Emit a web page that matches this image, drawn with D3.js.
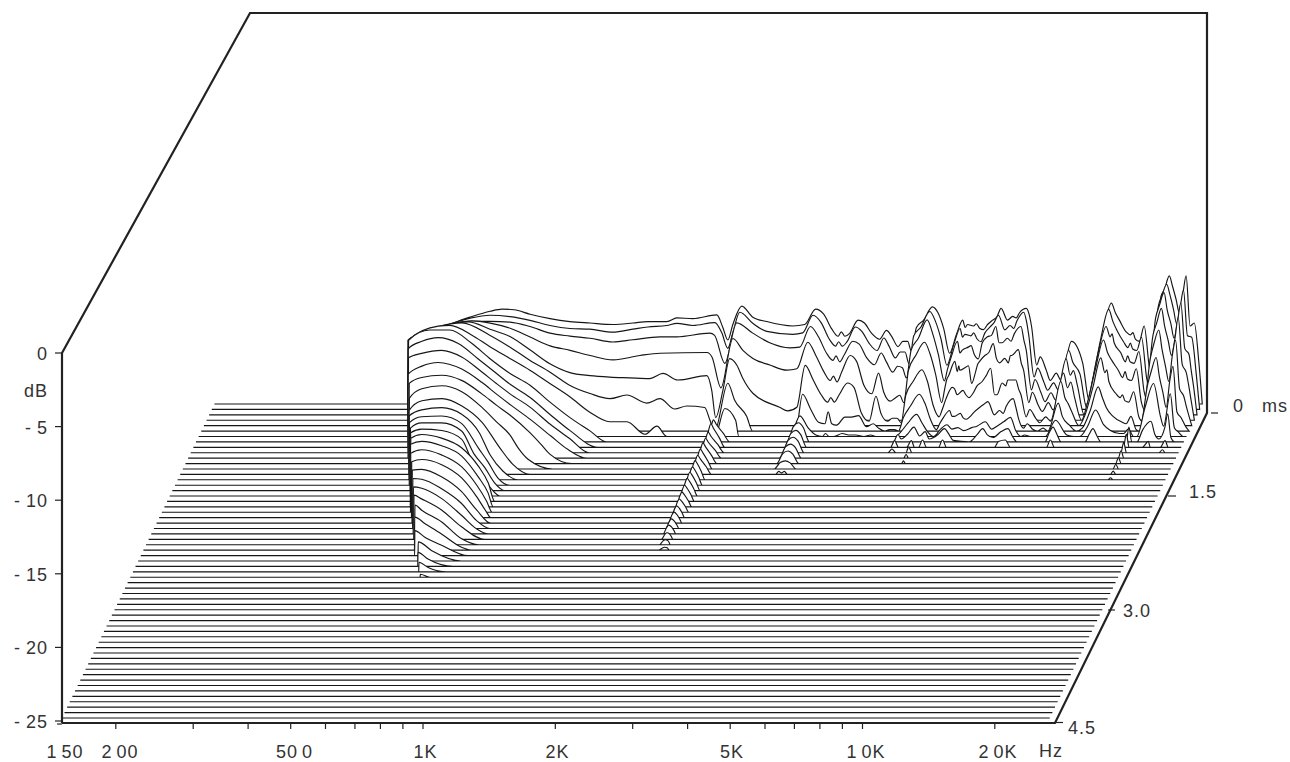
<!DOCTYPE html>
<html><head><meta charset="utf-8">
<style>html,body{margin:0;padding:0;background:#fff}svg{display:block}text{font-family:"Liberation Sans",Arial,sans-serif;fill:#333}</style>
<script src="https://cdn.jsdelivr.net/npm/d3@7"></script></head><body><svg id="c" width="1290" height="762"></svg>
<script>
// Frequency axis ticks
const freqTicks=[200,300,400,500,600,700,800,900,1000,2000,3000,4000,5000,6000,7000,8000,9000,10000,20000];
const freqLabels=[[150,"1 50"],[200,"2 00"],[500,"50 0"],[1000,"1K"],[2000,"2K"],[5000,"5K"],[10000,"1 0K"],[20000,"2 0K"]];
const dbTicks=[0,-5,-10,-15,-20,-25];
const timeTicks=[0,1.5,3,4.5];
const timeLabels=["0   ms","1.5","3.0","4.5"];
const sliceCount=59;
const binLo=-90.5, binHi=156.75;

// Slice data: [log-frequency bin, level in dB above the -25 dB floor]
const low0=[[-42,4.35],[-36.5,4.96],[-31.5,5.43],[-26.5,5.9],[-21.5,6.3],[-18.5,6.45],[-15.5,6.4],[-11.5,6.1],[-6.5,5.8],[-1.5,5.6],[3.5,5.5],[9.25,5.4],[14.25,5.5],[18,5.6],[22.75,5.6],[25.25,5.85],[29.25,5.8],[35.25,6.05],[36.75,5.2],[38,4.35],[39.25,5.4],[41.5,6.65],[44.25,5.9],[47.75,5.6],[54.25,5.3],[57.25,5.4]];
const low1=[[-41.3,4.7],[-35.85,5.3],[-30.85,5.8],[-25.85,6.2],[-20.85,6.4],[-15.85,6.3],[-10.85,6.05],[-5.85,5.7],[-.85,5.5],[4.15,5.45],[9.9,5.25],[14.9,5.45],[18.65,5.6],[23.4,5.7],[25.9,5.85],[29.9,5.7],[35.4,5.9],[37.15,5.2],[38.65,4.15],[39.9,5.2],[41.65,6.6],[44.9,5.85],[48.4,5.3],[54.9,5.1],[57.4,5.2]];
const low2=[[-40.6,5.1],[-35.2,5.7],[-30.2,6.15],[-25.2,6.35],[-20.2,6.35],[-15.2,6.3],[-10.2,6],[-5.2,5.55],[-.2,5.35],[4.8,5.2],[10.55,4.95],[15.55,5.1],[22.3,5.3],[26.55,5.3],[34.8,5.55],[36,5.4],[38.55,3.5],[41.55,6.25],[45.55,5.55],[49.8,4.9],[54.8,4.55],[57.3,4.6]];
const low3=[[-39.8,5.45],[-32.4,6.25],[-24.1,6.75],[-19.5,6.6],[-14.5,6.25],[-9.5,5.65],[-4.5,5.05],[.5,4.75],[5.5,4.4],[11.25,4.1],[18,4.4],[23,4.55],[34.75,4.6],[36,4.3],[38.25,2.2],[41.25,5.55],[43.75,4.75],[46.25,4.2],[50.5,3.75],[54.75,3.4],[57.25,3.5]];
const low4=[[-39.3,5.8],[-31.8,6.65],[-24.3,7.05],[-18.9,6.55],[-13.9,6.05],[-8.9,5.15],[-3.9,4.2],[1.1,3.6],[6.1,3.4],[11.1,3.3],[16,3.25],[21.1,3.2],[24.4,3.55],[28.1,3.1],[35.4,3.4],[36.6,2.4],[37.6,.55],[39.4,2.4],[41.1,4.55],[42.9,4.1],[44.4,3.2],[46.9,2.2],[53.6,1.25],[55.6,1],[57.9,1.25]];
const low5=[[-38.6,6.2],[-31.1,7.1],[-25.3,7.35],[-18.2,6.5],[-13.2,5.7],[-8.2,4.8],[-3.2,4],[1.8,3.1],[6.8,2.55],[11.8,2.2],[16,2.45],[21,1.9],[24.3,2.2],[28,1.5],[31,1.7],[35.5,1.6],[36.8,.75],[38,0],[41.3,3.25],[43,2.1],[46,1],[47.5,0],[58.3,0]];
const low6=[[-38,6.55],[-30.5,7.5],[-27.6,7.55],[-22.2,6.9],[-17.6,6.1],[-12.6,5.3],[-7.6,4.5],[-2.6,3.6],[2.4,2.7],[7.4,1.65],[12.4,1],[16.7,1],[21.2,.15],[24.2,.7],[26.7,0],[38.7,0],[41.2,1.9],[43.9,1.1],[44.7,0],[57.5,0]];
const low7=[[-37.3,6.9],[-32,7.6],[-27,7.6],[-21.5,6.7],[-16.9,5.65],[-11.9,4.65],[-6.9,3.85],[-1.9,2.7],[3.1,1.65],[8.1,.75],[12.3,0]];
const low8=[[-36.7,6.7],[-33.3,7.2],[-29.2,7.45],[-24.2,7.05],[-19.2,6],[-15,5.1],[-11.3,4.3],[-6.3,3.4],[-1.3,2.25],[3.7,1.15],[10.7,0]];
const low9=[[-36,6.45],[-32.7,6.75],[-27.7,6.95],[-22.7,6.5],[-17.7,5.5],[-14,4.7],[-10.6,4],[-5.6,3.1],[-.6,1.95],[4.4,.95],[9.15,0]];
const low10=[[-35.4,5.7],[-32,6.25],[-27.9,6.5],[-22,6.05],[-17,5.15],[-13.3,4.35],[-9.7,3.6],[-4.7,2.6],[.3,1.5],[4.5,.6],[9.3,0]];
const low11=[[-34.5,5.45],[-31.4,5.85],[-26.4,6],[-21.4,5.65],[-16.4,4.75],[-12.6,3.95],[-9.3,3.3],[-4.3,2.1],[-1.5,1.3],[.7,.64],[6.2,0]];
const low12=[[-33.8,4.8],[-30.7,5.45],[-25.7,5.65],[-20.7,5.25],[-15.7,4.2],[-12,3.2],[-8.6,2.3],[-6.5,1.4],[-4.1,.66],[2.1,0]];
const low13=[[-33.2,4.35],[-30,5],[-25,5.15],[-20,4.65],[-15,3.55],[-10.5,1.8],[-7.25,.68],[-3,0]];
const low14=[[-32.5,4.35],[-29.4,4.75],[-24.4,4.9],[-19.4,4.45],[-15,3.2],[-12.3,1.7],[-9.1,.6],[-5.3,0]];
const low15=[[-31.8,4.25],[-28.8,4.65],[-23.8,4.7],[-18.8,4.2],[-14.5,2.5],[-12.2,1.6],[-9.7,.5],[-6.7,0]];
const low16=[[-30.9,4.25],[-28.1,4.6],[-23.1,4.6],[-18.1,4.05],[-15,2.5],[-12.25,1.55],[-9.75,.5],[-7.3,0]];
const low17=[[-30.2,4.3],[-27.4,4.55],[-22.4,4.45],[-17.4,3.85],[-15,2.5],[-12.6,1.5],[-10.2,.55],[-7.85,0]];
const low18=[[-29.5,4.3],[-26.8,4.55],[-21.8,4.3],[-16.8,3.65],[-12.6,2.4],[-10.1,1.25],[-8.5,0]];
const low19=[[-28.9,4.25],[-26.1,4.45],[-21.1,4.15],[-16.1,3.45],[-12,2.05],[-9.5,.95],[-8.2,0]];
const low20=[[-28.2,4],[-25.5,4.25],[-20.5,3.9],[-15.5,3.1],[-11.7,1.85],[-9.2,.75],[-7.8,0]];
const low21=[[-27.3,3.8],[-24.8,3.95],[-19.8,3.6],[-14.8,2.7],[-11.1,1.45],[-8.6,.4],[-7.5,0]];
const low22=[[-26.5,3.6],[-24.2,3.65],[-19.2,3.15],[-14.2,2.15],[-10.4,.9],[-6.85,0]];
const low23=[[-25.7,3.4],[-23.5,3.35],[-18.5,2.7],[-13.5,1.7],[-9.8,.55],[-6.45,0]];
const low24=[[-24.9,3.2],[-22.8,3.1],[-17.8,2.4],[-12.8,1.25],[-9.1,.35],[-6.2,0]];
const low25=[[-24.1,3],[-22.2,2.75],[-17.2,2],[-12.2,.85],[-6.4,0]];
const low26=[[-23.2,2.7],[-21.5,2.35],[-16.5,1.55],[-11.5,.4],[-7.2,0]];
const low27=[[-22.6,2.25],[-20,1.8],[-15.9,1.1],[-10.9,.2],[-8,0]];
const low28=[[-21.9,1.7],[-19.4,1.25],[-15.2,.7],[-8.6,0]];
const low29=[[-20.4,1.3],[-17,.7],[-9.6,0]];
const low30=[[-19.8,.95],[-17.3,.5],[-11,0]];
const low31=[[-18.9,.65],[-16.6,.3],[-12,0]];
const low32=[[-17.9,.2],[-15.5,0]];
const lows=[low0,low1,low2,low3,low4,low5,low6,low7,low8,low9,low10,low11,low12,low13,low14,low15,low16,low17,low18,low19,low20,low21,low22,low23,low24,low25,low26,low27,low28,low29,low30,low31,low32];

// High band, slices 0..6: levels at shared bins
const hfBins=[60,62,64,65.6,66.4,67.3,68.5,70.6,72.2,74,
76,77.7,79,80.6,81.8,83,84,85.2,87,89.2,
90.6,92,93.5,95.2,96.8,98,99.5,101,103,104.3,
106.4,108,109.3,111,112.7,114,115.3,116.2,117.7,118.7,
120.2,121.4,124,126.8,128.5,130,132,134,136,137.7,
140,141,142.2,143.5,144.3,146.4,148.5,150.2,151,152.7,
153.7,154.75,155.9,156.75];
const high0=[6.45,6.1,5.1,4.6,4.9,4.6,4.8,5.7,5.5,4.8,
4.4,5.0,4.6,3.9,4.25,4.25,3.55,5.2,5.7,6.6,
6.2,5.15,3.45,4.7,5.7,5.4,5.3,5.15,5.4,5.7,
6.5,5.7,5.95,6.2,6.5,5.3,2.65,3.2,2.3,1.6,
2.1,1.6,4.25,2.8,.15,2.3,5,6.85,5.7,4.9,
4.4,4.25,5.3,2.5,1.6,7.3,8.7,7.1,6.2,8.7,
5.3,5.5,2.8,0];
const high1=[6.4,5.9,4.8,4.3,4.6,4.3,4.6,5.6,5.3,4.5,
4.0,4.85,4.3,3.5,3.9,3.9,3.1,5.0,5.6,6.65,
6.0,4.8,3.0,4.4,5.5,5.1,5.0,4.8,5.2,5.6,
6.4,5.4,5.7,6.0,6.6,5.0,2.2,2.8,1.9,1.3,
1.8,1.3,4.0,2.4,.1,2,4.8,6.8,5.4,4.6,
4.1,4,4.9,2.1,1.3,7.0,8.5,6.8,5.8,8.1,
5,4.9,2.4,0];
const high2=[6,5.3,4.2,3.7,4.0,3.6,4.1,5,4.8,3.9,
3.4,4.2,3.6,2.9,3.3,3.2,2.5,4.4,5.2,6.45,
5.5,4.1,2.3,3.9,5,4.4,4.6,4.1,4.9,5.3,
6,4.9,5.2,5.5,6,4.4,1.7,2.4,1.5,.9,
1.5,1,3.8,2,0,1.6,4.2,6,4.9,4.2,
3.6,3.5,4.3,1.6,1,6.6,8.3,6.2,5.2,7.6,
4.5,4.1,1.9,0];
const high3=[5.3,4.4,3.3,2.7,3.0,2.6,3.3,4.4,4.0,2.4,
1.8,3.2,1.9,1.3,1.5,1.7,1.2,3.4,4.4,5.3,
4.5,3.1,1.2,3,4,3.4,3.6,2.5,4,4.4,
5.2,3.9,4.2,4.4,4.8,3.4,1.2,1.9,1,.6,
1.2,.7,3.2,1.5,0,1.2,3.5,5.45,4.1,3.4,
2.8,2.7,3.5,1.2,.7,5.8,7.6,5.4,4.4,7,
3.8,3.2,1.4,0];
const high4=[4.1,3.1,2.1,1.6,1.9,1.6,2.1,2.9,2.6,.9,
.3,2,.8,.3,.5,.5,.2,2.1,3,3.8,
3,1.4,.6,1.8,2.6,2.1,2.4,1.9,2.7,3,
3.9,2.1,2.9,3.1,3.1,2.1,.6,1.1,.5,.2,
.6,.3,3,.9,0,.7,2.6,4.6,3,2.2,
1.7,1.6,2.3,.6,.3,4.6,6.5,4,3,5.8,
2.5,2,.8,0];
const high5=[2.5,1.5,.6,.5,1.3,.5,.4,.95,.95,1.05,
.3,.5,.2,0,.1,.1,0,.9,1.7,2.5,
1.9,.8,.1,.9,1.4,1,1.2,.8,1.3,1.6,
2,1.1,1.4,1.7,2.2,.9,.2,.5,.1,0,
.2,0,1.9,.4,0,.2,1.4,3,1.6,1,
.6,.5,1,.1,0,3.2,5,2.6,1.6,4.4,
1.3,.9,.3,0];
const high6=[1.4,.6,.1,0,.2,0,0,.2,.1,.1,
0,.1,0,0,0,0,0,.3,.9,1.5,
.9,.3,0,.5,.8,.5,.6,.4,.6,.7,
1,.5,.7,1,1.3,.4,0,.1,0,0,
0,0,1.1,.1,0,0,.7,1.8,.8,.4,
.2,.2,.5,0,0,2,3.6,1.4,.7,2.9,
.6,.3,0,0];
const highs=[high0,high1,high2,high3,high4,high5,high6];

// Fine notches between the shared bins
const jag0=[[97.4,5.2],[100.2,5.45],[102,5.05],[105.3,5.9],[110.2,5.85],[113.4,6.1],[135,6.2],[138.8,4.7],[139.4,4.85],[147.3,7.8],[149.3,8],[151.9,7.5]];
const jag1=[[97.4,4.9],[100.2,5.2],[102,4.6],[105.3,5.9],[110.2,5.5],[113.4,6],[125,3.2],[135,6],[138.8,4.2],[139.4,4.5],[147.3,7.7],[149.3,7.8],[151.9,7]];
const jag2=[[94.3,3.1],[97.4,4.2],[100.2,4.7],[102,3.8],[105.3,5.4],[107.2,4.9],[110.2,5],[113.4,5.1],[125,2.7],[125.8,3],[135,5.3],[135.5,5.5],[138.8,3.6],[139.4,4],[147.3,7.4],[149.3,7.1],[151.9,6.4],[155.3,3]];
const jag3=[[94.3,2.2],[94.8,2.8],[97.4,3.3],[97.8,3.7],[100.2,3.7],[102,3.3],[102.5,3.8],[105.3,4.6],[107.2,4.2],[110.2,3.9],[110.7,4.4],[113.4,3.9],[125,2.2],[125.8,2.6],[135,4.6],[138.8,2.9],[139.4,3.3],[147.3,6.6],[149.3,6.4],[151.9,5.6],[155.3,2.4]];
const jag4=[[94.3,1.1],[97.4,2.5],[97.8,2.2],[100.2,2.1],[102,2.2],[105.3,3.4],[107.4,2.1],[110.2,2.7],[110.7,3.1],[113.4,2.5],[125,1.9],[125.8,1.5],[135,3.6],[135.5,3.8],[138.8,1.9],[139.4,2.1],[147.3,5.6],[149.3,5.2],[151.9,4.8],[155.3,1.4]];
const jag5=[[94.3,.5],[97.4,1],[100.2,.9],[102,1],[105.3,1.8],[110.2,1.2],[113.4,1.6],[125,1],[135,2.3],[147.3,4.1],[149.3,3.7],[151.9,3.4]];
const jags=[jag0,jag1,jag2,jag3,jag4,jag5];

// Sparse high band for slices 7..11
const sparse7=[[84,0],[85.2,.5],[86,.2],[87.5,.5],[89.2,1],[90.6,.4],[92,.7],[93,.2],[95.2,.5],[96.8,.9],[98,.5],[99,.1],[103,0],[105,.5],[106.4,.9],[107.5,.5],[109,.3],[111,.7],[112.7,.9],[114,.3],[115,0],[122,0],[123,.6],[124,1],[125,.5],[126,0],[132,0],[133,.5],[134,.9],[135,.4],[136,0],[141.6,0],[145,0],[146.4,.8],[148.5,1.4],[149.5,.5],[150.5,.2],[152,1],[152.7,1.9],[153.5,.3],[154.5,0]];
const sparse8=[[84,0],[85,.45],[86,0],[88,0],[89.2,.45],[90,0],[91,0],[92,.5],[93,0],[96,0],[97,.5],[98,0],[110,0],[111,.4],[112.7,.5],[114,0],[123,0],[124,.5],[125,0],[147,0],[148.5,.4],[149,0],[151.5,0],[152.7,.45],[153.5,0]];
const sparse9=[[84,0],[85,.25],[86,0],[88.5,0],[89.2,.4],[90,0],[151.8,0],[152.7,.2],[153.4,0]];
const sparse10=[[88.6,0],[89.2,.25],[89.8,0]];
const sparse11=[[88.7,0],[89.2,.18],[89.7,0]];
const sparses={7:sparse7,8:sparse8,9:sparse9,10:sparse10,11:sparse11};

// Narrow ridges persisting through time: level per slice from the given start slice
const ridgeA_start=7;
const ridgeA_level=[1.5,1.6,1.4,1.35,1.4,1.35,1.3,1.3,1.25,1.25,1.2,1.1,1,.9,.8,.75,.65,.6,.45,.35,.2];
const ridgeA_apex=[39,39,39,39,39,39,39,39,39,39,39,39,39,39,39,39,39,39,39.2,39.4,39.9];
const ridgeA_right=[43.1,42.5,43,43,42.5,42,42.5,41.5,41.5,41.6,41.6,41.5,41.5,41.4,41,41,40.9,40.8,40.7,40.7,41];
const ridgeB_start=7;
const ridgeB_level=[1.3,1.15,1.05,.95,.85,.55,.2];
const ridgeC_start=7;
const ridgeC_level=[1,.9,.7,.5,.4,.32,.22,.14];

const xScale=d3.scaleLog().domain([1000,10000]).range([423,862.5]);
const binHz=b=>1000*Math.pow(10,b/110);
const depthX=d3.scaleLinear().domain([0,sliceCount-1]).range([153,153-2.63*(sliceCount-1)]);
const floorY=d3.scaleLinear().domain([0,sliceCount-1]).range([404,718]);
const yDb=d3.scaleLinear().domain([0,-25]).range([353,721]);
const unit=Math.abs(yDb(-25)-yDb(-24));
const yTime=d3.scaleLinear().domain(timeTicks).range([413,496,610,722.5]);

highs.forEach((h,i)=>{if(h.length!==hfBins.length)throw new Error("high"+i+" len "+h.length+" vs "+hfBins.length)});

function slicePts(k){
  let p=[];
  if(lows[k]){const f=lows[k][0];p.push([f[0]-.06,0]);p=p.concat(lows[k]);}
  if(highs[k]) p=p.concat(hfBins.map((b,i)=>[b,highs[k][i]]));
  if(jags[k]) p=p.concat(jags[k]);
  if(k>=ridgeA_start&&k-ridgeA_start<ridgeA_level.length){
    const i=k-ridgeA_start,a=ridgeA_apex[i],l=ridgeA_level[i],r=ridgeA_right[i];
    p.push([a-1.4,0],[a-.5,l*.75],[a,l],[a+.7,l*.8],[(a+r)/2+.4,l*.4],[r,0]);
  }
  if(k>=ridgeB_start&&k-ridgeB_start<ridgeB_level.length){
    const l=ridgeB_level[k-ridgeB_start];
    if(l<.3)p.push([58.5,0],[59.3,l],[60,l*.5],[60.7,l],[61.5,0]);
    else p.push([57.5,0],[59,l*.8],[60.3,l],[61.5,l*.75],[63,0]);
  }
  if(sparses[k]) p=p.concat(sparses[k]);
  if(k>=ridgeC_start&&k-ridgeC_start<ridgeC_level.length){
    const l=ridgeC_level[k-ridgeC_start];
    p.push([142.3,0],[143,l],[143.7,0]);
  }
  p.push([binLo,0],[binHi,0]);
  p.sort((a,b)=>a[0]-b[0]);
  return p;
}

const svg=d3.select("#c");
const gS=svg.append("g");
const line=d3.line().curve(d3.curveMonotoneX);
for(let k=0;k<sliceCount;k++){
  const fy=floorY(k),dx=depthX(k);
  const pts=slicePts(k).map(([b,v])=>[xScale(binHz(b))+dx,fy-v*unit]);
  gS.append("path").attr("d",line(pts)+"Z").attr("fill","#fff").attr("stroke","#161616").attr("stroke-width",1.15);
}

// Frame
svg.append("path").attr("fill","none").attr("stroke","#222").attr("stroke-width",2.2).attr("stroke-linejoin","miter")
  .attr("d",d3.line()([[62,723],[62,yDb(0)],[250,13],[1207,13],[1207,yTime(0)],[1055,723],[62,723]]));
const tk=svg.append("g").attr("stroke","#222").attr("stroke-width",1.2);
dbTicks.forEach(d=>tk.append("line").attr("x1",55).attr("x2",62).attr("y1",yDb(d)).attr("y2",yDb(d)));
tk.append("line").attr("x1",57).attr("x2",62).attr("y1",724).attr("y2",724);
freqTicks.forEach(f=>tk.append("line").attr("x1",xScale(f)).attr("x2",xScale(f)).attr("y1",724).attr("y2",729));
const timeTickX=[[1211,1218],[1168,1176],[1108,1115],[1054,1063]];
timeTicks.forEach((t,i)=>tk.append("line").attr("x1",timeTickX[i][0]).attr("x2",timeTickX[i][1]).attr("y1",yTime(t)).attr("y2",yTime(t)));

const fs=18;
const T=(x,y,s,a)=>svg.append("text").attr("x",x).attr("y",y).attr("font-size",fs).attr("text-anchor",a||"middle").attr("letter-spacing",1).style("white-space","pre").text(s);
const fx={150:65,200:120,500:294.5,1000:425.5,2000:557.5,5000:732,10000:866,20000:998};
freqLabels.forEach(([f,s])=>T(fx[f],758,s).attr("word-spacing",-2));
T(1051,757,"Hz");
dbTicks.forEach(d=>T(48,yDb(d)+7,d===0?"0":"- "+(-d),"end").attr("word-spacing",-1));
T(48,397,"dB","end");
const tx=[[1233,412],[1189,498],[1123,617],[1068,734]];
timeLabels.forEach((s,i)=>T(tx[i][0],tx[i][1],s,"start"));
</script></body></html>
